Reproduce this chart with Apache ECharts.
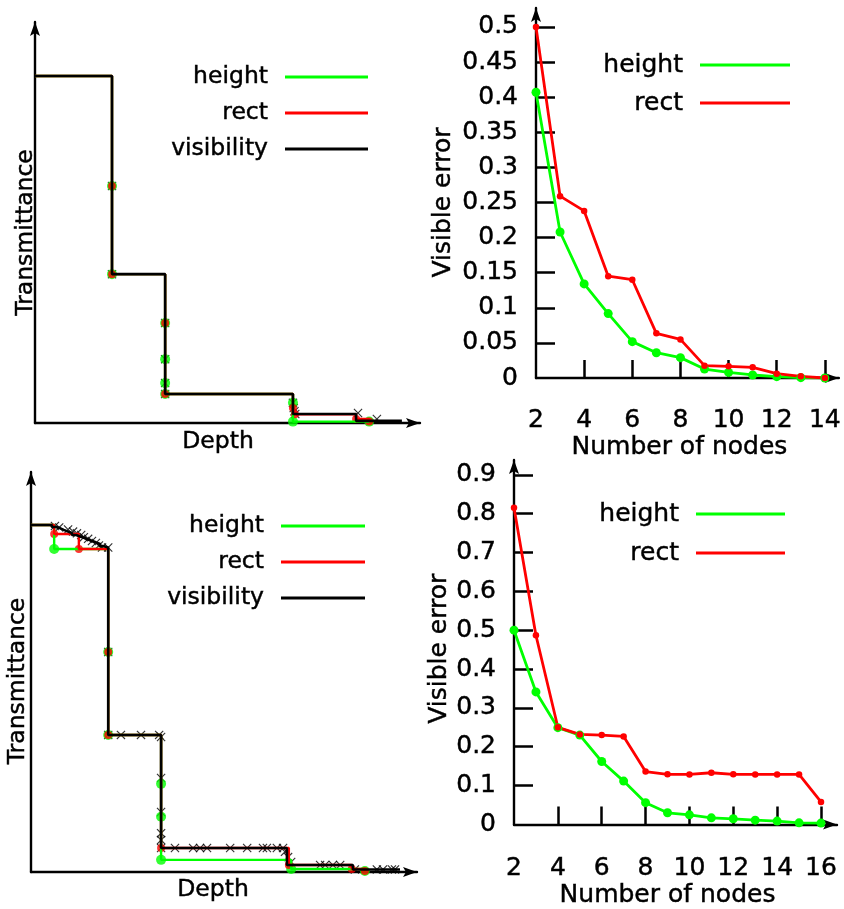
<!DOCTYPE html>
<html>
<head>
<meta charset="utf-8">
<script src="https://cdn.jsdelivr.net/npm/echarts@6/dist/echarts.min.js"></script>
<style>
  html, body { margin: 0; padding: 0; background: #ffffff; }
  #chart { width: 844px; height: 909px; }
</style>
</head>
<body>
<div id="chart"></div>
<script>
// ---- Upper transmittance panel: [depth, transmittance] ----
const upperVisibility = [[0,1],[20.0,0.429],[33.8,0.0836],[67.0,0.026],[83.4,0.006],[95.3,0.006]];
const upperVisSamples = [[20.0,0.683],[20.0,0.429],[33.8,0.288],[33.8,0.184],[33.8,0.115],[33.8,0.0836],
  [67.0,0.058],[67.2,0.043],[67.4,0.034],[67.6,0.026],[83.9,0.029],[88.8,0.0115]];
const upperHeight = [[0,1],[20.0,0.683],[20.0,0.429],[33.8,0.288],[33.8,0.184],[33.8,0.115],[33.8,0.0836],
  [67.0,0.058],[67.0,0.004],[86.8,0.004]];
const upperRect = [[0,1],[20.0,0.683],[20.0,0.429],[33.8,0.288],[33.8,0.0836],[67.0,0.043],[67.5,0.025],
  [83.4,0.0115],[86.8,0.004]];

// ---- Lower transmittance panel: [depth, transmittance] ----
const lowerVisibility = [[0,1],[5.4,0.994],[6.5,0.991],[7.5,0.986],[8.5,0.981],[9.6,0.977],[10.6,0.971],
  [11.7,0.967],[12.7,0.963],[13.7,0.958],[14.8,0.954],[15.8,0.950],[16.8,0.945],[17.9,0.939],[18.9,0.935],
  [20.0,0.395],[33.7,0.069],[66.3,0.020],[83.4,0.007],[95.6,0.007]];
const lowerVisSamples = [[6.2,0.997],[7.3,0.993],[9.6,0.987],[10.9,0.981],[11.9,0.976],[13.0,0.971],
  [13.7,0.965],[14.8,0.960],[15.8,0.954],[16.8,0.948],[17.6,0.941],[18.4,0.935],[20.0,0.935],[20.0,0.634],
  [20.0,0.395],[23.3,0.395],[28.5,0.395],[33.2,0.395],[33.7,0.389],[33.7,0.271],[33.7,0.173],[33.7,0.112],
  [33.7,0.092],[33.7,0.069],[37.3,0.069],[42.0,0.069],[43.8,0.069],[45.6,0.069],[51.6,0.069],[56.0,0.069],
  [60.1,0.069],[61.1,0.069],[63.7,0.069],[65.3,0.069],[65.8,0.058],[66.6,0.043],[67.4,0.029],[74.9,0.020],
  [76.2,0.020],[78.2,0.020],[80.1,0.020],[83.9,0.0075],[89.6,0.0075],[91.2,0.0075],[93.5,0.0075],[94.3,0.0075]];
const lowerHeight = [[0,1],[6.0,0.931],[20.0,0.634],[20.0,0.395],[33.7,0.254],[33.7,0.159],[33.7,0.035],
  [67.4,0.0086],[86.5,0.003]];
const lowerRect = [[0,1],[6.0,0.974],[12.4,0.931],[20.0,0.634],[20.0,0.395],[33.7,0.069],[66.8,0.020],
  [83.1,0.0086],[86.5,0.003]];

// ---- Upper error panel ----
const upperNodes = [2,3,4,5,6,7,8,9,10,11,12,13,14];
const upperHeightError = [0.407,0.208,0.134,0.0917,0.0518,0.036,0.029,0.0128,0.008,0.0043,0.0019,0.0005,0];
const upperRectError = [0.5,0.259,0.238,0.145,0.140,0.0636,0.055,0.0176,0.0166,0.0152,0.0062,0.0024,0];
const upperNodeTicks = [2,4,6,8,10,12,14];
const upperErrorTicks = [0,0.05,0.1,0.15,0.2,0.25,0.3,0.35,0.4,0.45,0.5];

// ---- Lower error panel ----
const lowerNodes = [2,3,4,5,6,7,8,9,10,11,12,13,14,15,16];
const lowerHeightError = [0.500,0.341,0.249,0.230,0.162,0.1115,0.056,0.030,0.0247,0.017,0.0145,0.011,0.0085,0.004,0.0034];
const lowerRectError = [0.815,0.487,0.250,0.2316,0.230,0.2265,0.136,0.129,0.1286,0.133,0.129,0.1286,0.1286,0.1286,0.058];
const lowerNodeTicks = [2,4,6,8,10,12,14,16];
const lowerErrorTicks = [0,0.1,0.2,0.3,0.4,0.5,0.6,0.7,0.8,0.9];

const FONT = 'DejaVu Sans';
const GREEN = '#00ff00';
const RED = '#ff0000';
const BLACK = '#000000';
const CROSS = 'path://M0,0.9L0.9,0L5,4.1L9.1,0L10,0.9L5.9,5L10,9.1L9.1,10L5,5.9L0.9,10L0,9.1L4.1,5Z';
const ARROW = 'path://M5,0L10,14L5,11L0,14Z';

function zip(xs, ys) { return xs.map((x, i) => [x, ys[i]]); }

function textStyle(size) {
  return { fontFamily: FONT, fontSize: size, color: BLACK, textBorderColor: BLACK, textBorderWidth: 0.45 };
}

function arrowLine() {
  return {
    show: true,
    onZero: false,
    lineStyle: { color: BLACK, width: 2.4 },
    symbol: ['none', ARROW],
    symbolSize: [10, 14],
    symbolOffset: [0, -7]
  };
}

function nameStyle(size, padding) {
  return Object.assign(textStyle(size), { padding: padding });
}

// Schematic axes (no ticks) for the transmittance panels
function depthAxis(grid, gap, pad) {
  return {
    gridIndex: grid, type: 'value', min: 0, max: 100,
    axisLine: arrowLine(), axisTick: { show: false }, axisLabel: { show: false }, splitLine: { show: false },
    name: 'Depth', nameLocation: 'middle', nameGap: gap, nameTextStyle: nameStyle(23.5, pad)
  };
}
function transAxis(grid, max, gap, pad) {
  return {
    gridIndex: grid, type: 'value', min: 0, max: max,
    axisLine: arrowLine(), axisTick: { show: false }, axisLabel: { show: false }, splitLine: { show: false },
    name: 'Transmittance', nameLocation: 'middle', nameGap: gap, nameTextStyle: nameStyle(23.5, pad)
  };
}

// Axes with inward ticks for the error panels
function nodesAxis(grid, max, ticks, margin, gap) {
  return {
    gridIndex: grid, type: 'value', min: 2, max: max,
    axisLine: arrowLine(),
    axisTick: { show: true, inside: true, length: 18, lineStyle: { color: BLACK, width: 2.5 }, customValues: ticks.slice(1) },
    axisLabel: Object.assign(textStyle(25), { customValues: ticks, margin: margin }),
    splitLine: { show: false },
    name: 'Number of nodes', nameLocation: 'middle', nameGap: gap, nameTextStyle: nameStyle(25, [0, 16, 0, 0])
  };
}
function errorAxis(grid, max, ticks, gap, pad) {
  return {
    gridIndex: grid, type: 'value', min: 0, max: max,
    axisLine: arrowLine(),
    axisTick: { show: true, inside: true, length: 19, lineStyle: { color: BLACK, width: 2.5 }, customValues: ticks.slice(1) },
    axisLabel: Object.assign(textStyle(25), { customValues: ticks, margin: 18 }),
    splitLine: { show: false },
    name: 'Visible error', nameLocation: 'middle', nameGap: gap, nameTextStyle: nameStyle(25, pad)
  };
}

function stepLine(name, data, color, width, axis) {
  return {
    name: name, type: 'line', step: 'end', data: data, showSymbol: false, silent: true,
    xAxisIndex: axis, yAxisIndex: axis, color: color,
    lineStyle: { color: color, width: width }, itemStyle: { color: color }
  };
}
function nodeDots(name, data, color, size, axis) {
  return {
    name: name, type: 'scatter', data: data, symbol: 'circle', symbolSize: size, silent: true,
    xAxisIndex: axis, yAxisIndex: axis, itemStyle: { color: color }
  };
}
function crosses(data, axis) {
  return {
    name: 'visibility', type: 'scatter', data: data, symbol: CROSS, symbolSize: 9, silent: true,
    xAxisIndex: axis, yAxisIndex: axis, itemStyle: { color: BLACK }
  };
}
function errorLine(name, data, color, size, axis) {
  return {
    name: name, type: 'line', data: data, symbol: 'circle', symbolSize: size, showSymbol: true, silent: true,
    xAxisIndex: axis, yAxisIndex: axis, color: color,
    lineStyle: { color: color, width: 2.8 }, itemStyle: { color: color }
  };
}

// One legend entry, right-aligned text with a line sample on its right
function legendEntry(name, lineRight, lineWidth, lineY, fontSize) {
  return {
    data: [name], orient: 'vertical', align: 'right', selectedMode: false,
    right: 844 - lineRight, top: lineY - 15, padding: 0,
    itemWidth: lineWidth, itemHeight: 2.8, icon: 'rect',
    textStyle: Object.assign(textStyle(fontSize), { lineHeight: 30, padding: [0, 12, 0, 0] })
  };
}

const option = {
  animation: false,
  backgroundColor: '#ffffff',
  grid: [
    { left: 35, top: 22, width: 385, height: 401 },
    { left: 536, top: 8, width: 304, height: 370 },
    { left: 31, top: 472, width: 386, height: 400 },
    { left: 514, top: 460, width: 323, height: 367 }
  ],
  xAxis: [
    depthAxis(0, 7, [0, 19, 0, 0]),
    nodesAxis(1, 14.58, upperNodeTicks, 30, 57),
    depthAxis(2, 6, [0, 22, 0, 0]),
    nodesAxis(3, 16.73, lowerNodeTicks, 32, 57)
  ],
  yAxis: [
    transAxis(0, 1.1556, -3, [0, 20, 0, 0]),
    errorAxis(1, 0.527, upperErrorTicks, 80, [0, 19, 0, 0]),
    transAxis(2, 1.1527, 1, [0, 18, 0, 0]),
    errorAxis(3, 0.938, lowerErrorTicks, 62, [0, 13, 0, 0])
  ],
  legend: [
    legendEntry('height', 368, 83, 77, 23.5),
    legendEntry('rect', 368, 83, 113, 23.5),
    legendEntry('visibility', 368, 83, 149, 23.5),
    legendEntry('height', 790, 90, 65, 25),
    legendEntry('rect', 790, 90, 103, 25),
    legendEntry('height', 365, 84, 526, 23.5),
    legendEntry('rect', 365, 84, 562, 23.5),
    legendEntry('visibility', 365, 84, 598, 23.5),
    legendEntry('height', 785, 89, 514, 25),
    legendEntry('rect', 785, 89, 553, 25)
  ],
  series: [
    // upper transmittance
    stepLine('height', upperHeight, GREEN, 2.4, 0),
    stepLine('rect', upperRect, RED, 2.4, 0),
    stepLine('visibility', upperVisibility, BLACK, 2.6, 0),
    crosses(upperVisSamples, 0),
    nodeDots('height', upperHeight.slice(1), GREEN, 10, 0),
    nodeDots('rect', upperRect.slice(1), RED, 8, 0),
    // upper error
    errorLine('height', zip(upperNodes, upperHeightError), GREEN, 9, 1),
    errorLine('rect', zip(upperNodes, upperRectError), RED, 6.5, 1),
    // lower transmittance
    stepLine('height', lowerHeight, GREEN, 2.4, 2),
    stepLine('rect', lowerRect, RED, 2.4, 2),
    stepLine('visibility', lowerVisibility, BLACK, 2.6, 2),
    crosses(lowerVisSamples, 2),
    nodeDots('height', lowerHeight.slice(1), GREEN, 10, 2),
    nodeDots('rect', lowerRect.slice(1), RED, 8, 2),
    // lower error
    errorLine('height', zip(lowerNodes, lowerHeightError), GREEN, 9, 3),
    errorLine('rect', zip(lowerNodes, lowerRectError), RED, 6.5, 3)
  ]
};

const chart = echarts.init(document.getElementById('chart'), null, { renderer: 'canvas' });
chart.setOption(option);
</script>
</body>
</html>
